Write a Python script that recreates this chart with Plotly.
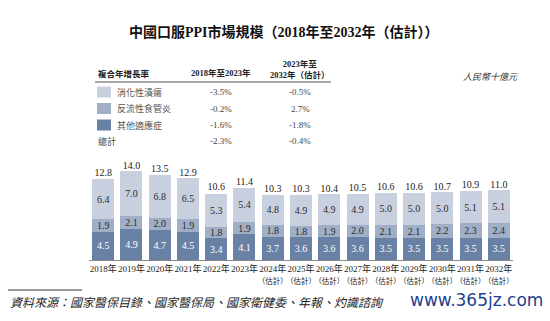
import plotly.graph_objects as go

est = "<br><span style='font-size:7.5px'>（估計）</span>"
years = ["2018年", "2019年", "2020年", "2021年", "2022年", "2023年",
         "2024年" + est, "2025年" + est, "2026年" + est, "2027年" + est,
         "2028年" + est, "2029年" + est, "2030年" + est, "2031年" + est,
         "2032年" + est]
other = [4.5, 4.9, 4.7, 4.5, 3.4, 4.1, 3.7, 3.6, 3.6, 3.6, 3.5, 3.5, 3.5, 3.5, 3.5]
reflux = [1.9, 2.1, 2.0, 1.9, 1.8, 1.9, 1.8, 1.8, 1.9, 2.0, 2.1, 2.1, 2.2, 2.3, 2.4]
ulcer = [6.4, 7.0, 6.8, 6.5, 5.3, 5.4, 4.8, 4.9, 4.9, 4.9, 5.0, 5.0, 5.0, 5.1, 5.1]
totals = [12.8, 14.0, 13.5, 12.9, 10.6, 11.4, 10.3, 10.3, 10.4, 10.5, 10.6, 10.6, 10.7, 10.9, 11.0]

series_names = ["消化性潰瘍", "反流性食管炎", "其他適應症"]
cagr_1823 = ["-3.5%", "-0.2%", "-1.6%"]
cagr_2332 = ["-0.5%", "2.7%", "-1.8%"]
total_label = "總計"
total_1823 = "-2.3%"
total_2332 = "-0.4%"

title = "中國口服PPI市場規模（2018年至2032年（估計））"
unit = "人民幣十億元"
source = "資料來源：國家醫保目錄、國家醫保局、國家衛健委、年報、灼識諮詢"
watermark = "www.365jz.com"

C_TOP = "#c8d0df"
C_MID = "#a1afc6"
C_BOT = "#6981a4"
SERIF = "Liberation Serif, Noto Sans CJK TC, serif"
CJK = "Noto Sans CJK TC, sans-serif"

W, H = 550, 321
ML, MR, MT, MB = 89, 37, 165, 61
PW, PH = W - ML - MR, H - MT - MB


def px(x):
    return (x - ML) / PW


def py(y):
    return (H - MB - y) / PH


fig = go.Figure()
fig.add_bar(x=years, y=other, name=series_names[2], marker_color=C_BOT,
            text=[f"{v:.1f}" for v in other], textposition="inside",
            insidetextanchor="middle",
            textfont=dict(family=SERIF, size=10, color="white"))
fig.add_bar(x=years, y=reflux, name=series_names[1], marker_color=C_MID,
            text=[f"{v:.1f}" for v in reflux], textposition="inside",
            insidetextanchor="middle",
            textfont=dict(family=SERIF, size=10, color="#2b2b2b"))
fig.add_bar(x=years, y=ulcer, name=series_names[0], marker_color=C_TOP,
            text=[f"{v:.1f}" for v in ulcer], textposition="inside",
            insidetextanchor="middle",
            textfont=dict(family=SERIF, size=10, color="#2b2b2b"))
fig.add_scatter(x=years, y=totals, mode="text",
                text=[f"{v:.1f}" for v in totals], textposition="top center",
                textfont=dict(family=SERIF, size=10, color="#222"),
                showlegend=False, cliponaxis=False)

fig.update_traces(selector=dict(type="bar"), marker_line_width=0,
                  constraintext="none", cliponaxis=False)

fig.update_layout(
    width=W, height=H, barmode="stack", bargap=0.22,
    margin=dict(l=ML, r=MR, t=MT, b=MB),
    paper_bgcolor="white", plot_bgcolor="white", showlegend=False,
    xaxis=dict(showgrid=False, showline=True, linecolor="#8a8a8a", linewidth=1,
               ticks="", tickangle=0, tickfont=dict(family=SERIF, size=9, color="#222"),
               range=[-0.5, 14.5]),
    yaxis=dict(visible=False, range=[0, 15]),
)

ann = []
shapes = []


def text(x, y, s, size=9, color="#222", anchor="left", family=SERIF, valign="middle"):
    ann.append(dict(x=px(x), y=py(y), xref="paper", yref="paper", text=s,
                    showarrow=False, xanchor=anchor, yanchor=valign,
                    font=dict(family=family, size=size, color=color)))


# title
text(284, 32, f"<b>{title}</b>", size=14, anchor="center", color="#111")

# table header
text(96, 73, "<b>複合年增長率</b>", size=8.5, family=CJK)
text(221, 73, "<b>2018年至2023年</b>", size=8.5, anchor="center")
text(300, 69, "<b>2023年至<br>2032年（估計）</b>", size=8.5, anchor="center")
shapes.append(dict(type="line", xref="paper", yref="paper", x0=px(95), x1=px(331),
                   y0=py(82), y1=py(82), line=dict(color="#555", width=1.2)))

row_y = [92, 108.5, 125]
colors = [C_TOP, C_MID, C_BOT]
for i in range(3):
    shapes.append(dict(type="rect", xref="paper", yref="paper",
                       x0=px(97), x1=px(111), y0=py(row_y[i] - 5.5), y1=py(row_y[i] + 5.5),
                       fillcolor=colors[i], line_width=0))
    text(115, row_y[i], series_names[i], size=9, color="#555", family=CJK)
    text(221, row_y[i], cagr_1823[i], size=9, color="#444", anchor="center")
    text(300, row_y[i], cagr_2332[i], size=9, color="#444", anchor="center")
text(96, 141, total_label, size=9, color="#444", family=CJK)
text(221, 141, total_1823, size=9, color="#444", anchor="center")
text(300, 141, total_2332, size=9, color="#444", anchor="center")

# unit
text(490, 76, f"<i>{unit}</i>", size=9, color="#333", anchor="center", family=CJK)

# source
shapes.append(dict(type="line", xref="paper", yref="paper", x0=px(8), x1=px(82),
                   y0=py(290), y1=py(290), line=dict(color="#333", width=1)))
text(8, 301, f"<i>{source}</i>", size=12, color="#222", family=CJK)
text(545, 300, watermark, size=17, color="#1f3f8f", anchor="right",
     family="DejaVu Sans, sans-serif")

fig.update_layout(annotations=ann, shapes=shapes)
fig.write_html("out.html")
